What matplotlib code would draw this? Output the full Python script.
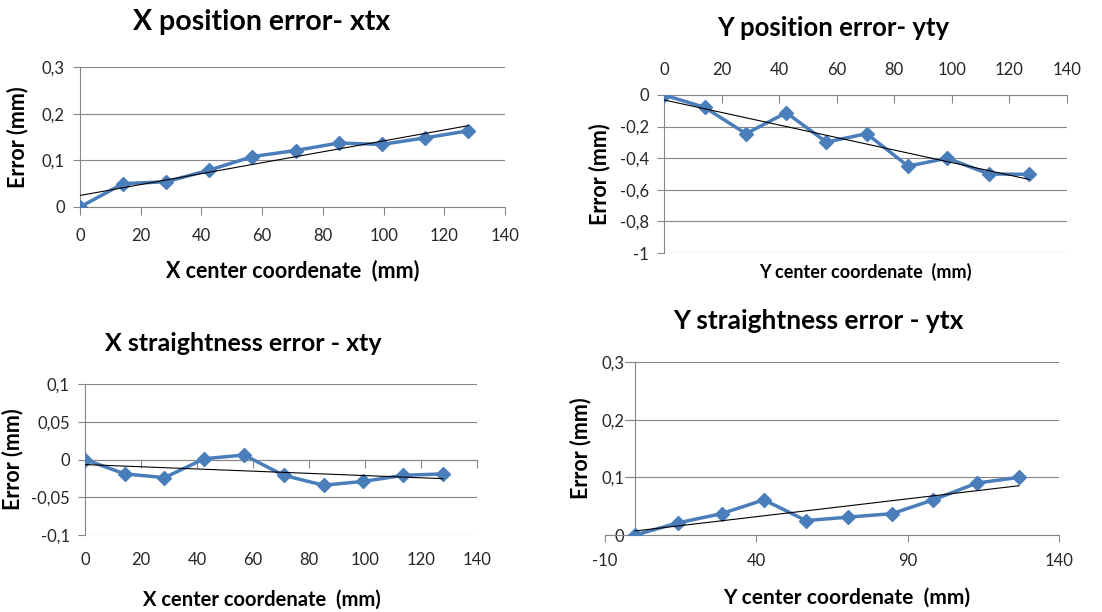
import numpy as np
import matplotlib
matplotlib.use('Agg')
import matplotlib.pyplot as plt
from matplotlib.ticker import FuncFormatter

plt.rcParams['font.family'] = ['Lato', 'DejaVu Sans']

# positions along the axis (mm)
x_pos = [0, 14.2, 28.4, 42.6, 56.8, 71, 85.2, 99.4, 113.6, 127.8]
y_pos = [0, 14.1, 28.5, 42.5, 56.4, 70.4, 84.8, 98.5, 112.8, 126.8]

# errors (mm)
xtx = [0, 0.050, 0.054, 0.079, 0.108, 0.121, 0.137, 0.134, 0.148, 0.163]
yty = [0, -0.078, -0.245, -0.112, -0.298, -0.245, -0.450, -0.400, -0.500, -0.502]
xty = [0, -0.019, -0.024, 0.001, 0.006, -0.021, -0.034, -0.029, -0.021, -0.019]
ytx = [0, 0.021, 0.037, 0.061, 0.025, 0.031, 0.037, 0.061, 0.090, 0.100]

blue = '#4A7EBB'
grey = '#868686'
txt = '#262626'

comma = FuncFormatter(lambda v, p: ('%g' % (round(v, 4) + 0.0)).replace('.', ','))


def draw(ax, x, y):
    ax.plot(x, y, color=blue, lw=2.5, marker='D', ms=7, zorder=3)
    k, b = np.polyfit(x, y, 1)
    xs = np.array([x[0], x[-1]])
    ax.plot(xs, k * xs + b, color='black', lw=0.8, zorder=4)
    ax.grid(axis='y', color=grey, lw=0.8)
    ax.set_axisbelow(True)
    for s in ax.spines.values():
        s.set_color(grey)
        s.set_linewidth(0.8)
    ax.spines['right'].set_visible(False)
    ax.tick_params(colors=grey, labelcolor=txt, labelsize=12, width=0.8)
    ax.yaxis.set_major_formatter(comma)
    ax.xaxis.set_major_formatter(comma)


fig = plt.figure(figsize=(11.02, 6.12), dpi=100)

# --- X position error
ax1 = fig.add_axes([0.0726, 0.6618, 0.3857, 0.2288])
draw(ax1, x_pos, xtx)
ax1.set_xlim(0, 140)
ax1.set_ylim(0, 0.3)
ax1.set_xticks(np.arange(0, 141, 20))
ax1.set_yticks([0, 0.1, 0.2, 0.3])
ax1.spines['top'].set_visible(False)
ax1.tick_params(axis='x', length=6, pad=9)
ax1.tick_params(axis='y', length=5, pad=6)
ax1.set_xlabel('X center coordenate  (mm)', fontsize=15.5, fontweight='bold')
ax1.set_ylabel('Error (mm)', fontsize=15.5, fontweight='bold')
ax1.xaxis.set_label_coords(0.5, -0.379)
ax1.yaxis.set_label_coords(-0.122, 0.5)

# --- Y position error
ax2 = fig.add_axes([0.6025, 0.5866, 0.3657, 0.2582])
draw(ax2, y_pos, yty)
ax2.set_xlim(0, 140)
ax2.set_ylim(-1, 0)
ax2.set_xticks(np.arange(0, 141, 20))
ax2.set_yticks(np.arange(-1, 0.01, 0.2))
ax2.xaxis.tick_top()
ax2.spines['bottom'].set_visible(False)
ax2.tick_params(axis='x', direction='in', length=6, pad=12)
ax2.tick_params(axis='y', length=5, pad=6)
ax2.set_xlabel('Y center coordenate  (mm)', fontsize=13, fontweight='bold')
ax2.xaxis.set_label_position('bottom')
ax2.set_ylabel('Error (mm)', fontsize=15.5, fontweight='bold')
ax2.xaxis.set_label_coords(0.5, -0.063)
ax2.yaxis.set_label_coords(-0.134, 0.5)

# --- X straightness error
ax3 = fig.add_axes([0.0771, 0.1258, 0.3557, 0.2467])
draw(ax3, x_pos, xty)
ax3.set_xlim(0, 140)
ax3.set_ylim(-0.1, 0.1)
ax3.set_xticks(np.arange(0, 141, 20))
ax3.set_yticks([-0.1, -0.05, 0, 0.05, 0.1])
ax3.spines['top'].set_visible(False)
ax3.spines['bottom'].set_position(('data', 0))
ax3.tick_params(axis='x', length=6, labelbottom=False)
ax3.tick_params(axis='y', length=5, pad=6)
# tick labels sit at the bottom of the plot, axis line at zero
ax3b = ax3.twiny()
ax3b.set_xlim(0, 140)
ax3b.set_xticks(np.arange(0, 141, 20))
ax3b.xaxis.set_major_formatter(comma)
ax3b.xaxis.tick_bottom()
ax3b.tick_params(length=0, pad=12, labelsize=12, labelcolor=txt)
for s in ax3b.spines.values():
    s.set_visible(False)
ax3.set_xlabel('X center coordenate  (mm)', fontsize=14.5, fontweight='bold')
ax3.set_ylabel('Error (mm)', fontsize=15.5, fontweight='bold')
ax3.xaxis.set_label_coords(0.452, -0.364)
ax3.yaxis.set_label_coords(-0.158, 0.5)

# --- Y straightness error
ax4 = fig.add_axes([0.549, 0.1258, 0.412, 0.2827])
draw(ax4, y_pos, ytx)
ax4.set_xlim(-10, 140)
ax4.set_ylim(0, 0.3)
ax4.set_xticks([-10, 40, 90, 140])
ax4.set_yticks([0, 0.1, 0.2, 0.3])
ax4.spines['top'].set_visible(False)
ax4.spines['left'].set_position(('data', 0))
ax4.tick_params(axis='x', length=5, pad=8)
ax4.tick_params(axis='y', length=5, pad=3)
for lab in ax4.get_yticklabels():
    lab.set_bbox(dict(facecolor='white', edgecolor='none', pad=1))
ax4.set_xlabel('Y center coordenate  (mm)', fontsize=15, fontweight='bold')
ax4.set_ylabel('Error (mm)', fontsize=15.5, fontweight='bold')
ax4.xaxis.set_label_coords(0.533, -0.306)
ax4.yaxis.set_label_coords(-0.029, 0.5)

# titles
fig.text(0.237, 0.951, 'X position error- xtx', fontsize=20.5, fontweight='bold', ha='center', va='baseline')
fig.text(0.756, 0.941, 'Y position error- yty', fontsize=18.5, fontweight='bold', ha='center', va='baseline')
fig.text(0.221, 0.4265, 'X straightness error - xty', fontsize=18, fontweight='bold', ha='center', va='baseline')
fig.text(0.743, 0.4624, 'Y straightness error - ytx', fontsize=19, fontweight='bold', ha='center', va='baseline')

fig.savefig('out.png', dpi=100)
